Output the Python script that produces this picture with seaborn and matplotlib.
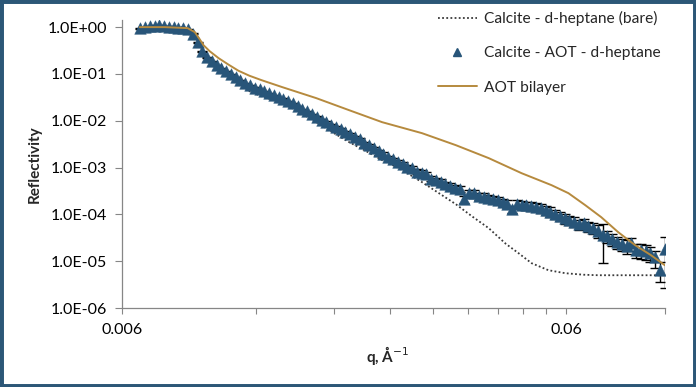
import numpy as np
import pandas as pd
import matplotlib
matplotlib.use("Agg")
import matplotlib.pyplot as plt
import seaborn as sns
from matplotlib.ticker import FixedLocator, FuncFormatter, NullLocator
from matplotlib.patches import Rectangle
from matplotlib.lines import Line2D

# -----------------------
# DATOS
# -----------------------
# medida: Calcite - AOT - d-heptane
q_data = [0.00660, 0.00677, 0.00693, 0.00711, 0.00728, 0.00747, 0.00765, 0.00785, 0.00804, 0.00824,
          0.00845, 0.00866, 0.00888, 0.00910, 0.00933, 0.00956, 0.00980, 0.01004, 0.01029, 0.01055,
          0.01081, 0.01108, 0.01136, 0.01165, 0.01194, 0.01224, 0.01254, 0.01286, 0.01318, 0.01351,
          0.01384, 0.01419, 0.01454, 0.01491, 0.01528, 0.01566, 0.01605, 0.01646, 0.01687, 0.01729,
          0.01772, 0.01817, 0.01862, 0.01909, 0.01956, 0.02005, 0.02055, 0.02107, 0.02160, 0.02214,
          0.02269, 0.02325, 0.02383, 0.02443, 0.02504, 0.02567, 0.02631, 0.02697, 0.02764, 0.02833,
          0.02904, 0.02977, 0.03051, 0.03127, 0.03206, 0.03286, 0.03368, 0.03452, 0.03538, 0.03627,
          0.03717, 0.03810, 0.03906, 0.04003, 0.04103, 0.04206, 0.04311, 0.04419, 0.04529, 0.04642,
          0.04759, 0.04877, 0.04999, 0.05124, 0.05252, 0.05384, 0.05518, 0.05656, 0.05798, 0.05943,
          0.06091, 0.06244, 0.06400, 0.06560, 0.06724, 0.06892, 0.07064, 0.07241, 0.07422, 0.07608,
          0.07798, 0.07993, 0.08193, 0.08397, 0.08607, 0.08823, 0.09043, 0.09269, 0.09501, 0.09739,
          0.09982]
r_data = [0.952, 1.000, 1.050, 1.077, 1.103, 1.050, 1.025, 1.000, 0.980, 0.952,
          0.906, 0.726, 0.478, 0.307, 0.229, 0.188, 0.154, 0.133, 0.115, 0.099,
          0.0855, 0.0737, 0.0636, 0.0576, 0.0510, 0.0473, 0.0429, 0.0389, 0.0352, 0.0319,
          0.0297, 0.0262, 0.0236, 0.0205, 0.0177, 0.0158, 0.0138, 0.0121, 0.0106, 0.0093,
          0.0083, 0.0073, 0.0067, 0.0058, 0.0052, 0.0045, 0.0040, 0.0034, 0.0030, 0.0026,
          0.00224, 0.00195, 0.00167, 0.00150, 0.00132, 0.00120, 0.00105, 0.00098, 0.00082, 0.00078,
          0.00072, 0.00058, 0.00054, 0.00050, 0.00044, 0.00041, 0.00036, 0.00035, 0.00021, 0.00029,
          0.00028, 0.00025, 0.00024, 0.00022, 0.00021, 0.00020, 0.00018, 0.00017, 0.00013, 0.00017,
          0.00016, 0.000155, 0.00015, 0.000145, 0.000135, 0.000122, 0.000115, 0.000104, 0.0000915, 0.0000829,
          0.0000760, 0.0000698, 0.0000620, 0.0000650, 0.0000560, 0.0000507, 0.0000448, 0.0000360, 0.0000342, 0.0000295,
          0.0000255, 0.0000231, 0.0000214, 0.0000240, 0.0000175, 0.0000172, 0.0000164, 0.0000148, 0.0000120, 0.0000065,
          0.0000180]
# error relativo (%)
err_pct = [2, 2, 2, 2, 2, 2, 2, 2, 2, 2,
           2, 2, 2, 2, 2, 2, 2, 2, 2, 2,
           3, 3, 3, 3, 3, 3, 3, 3, 3, 3,
           3, 3, 3, 3, 3, 3, 3, 3, 4, 4,
           4, 4, 4, 4, 5, 5, 5, 5, 6, 6,
           8, 8, 8, 9, 9, 10, 10, 11, 11, 12,
           12, 13, 13, 14, 14, 15, 15, 15, 16, 16,
           16, 17, 17, 17, 18, 18, 18, 18, 19, 19,
           20, 20, 20, 20, 21, 21, 22, 22, 22, 23,
           23, 24, 24, 25, 25, 26, 30, 75, 28, 28,
           30, 30, 32, 32, 34, 34, 35, 36, 40, 45,
           85]

# modelo: Calcite - d-heptane (bare)
q_bare = [0.00658, 0.00749, 0.00830, 0.00861, 0.00884, 0.00907, 0.00931, 0.00980, 0.01048, 0.01103,
          0.01161, 0.01236, 0.01377, 0.01504, 0.01642, 0.01784, 0.01947, 0.02126, 0.02309, 0.02521,
          0.02839, 0.03099, 0.03383, 0.03675, 0.04012, 0.04379, 0.04683, 0.05010, 0.05467, 0.05970,
          0.06553, 0.07078, 0.08262, 0.09950]
r_bare = [1.0, 1.0, 1.0, 0.821, 0.554, 0.339, 0.229, 0.147, 0.0897, 0.0636,
          0.0429, 0.0335, 0.0238, 0.0153, 0.00933, 0.00570, 0.00349, 0.00224, 0.00144, 0.00097,
          0.000488, 0.000284, 0.000165, 0.0000915, 0.0000507, 0.0000237, 0.0000148, 0.00000906, 0.00000641, 0.00000553,
          0.00000514, 0.00000501, 0.00000501, 0.00000501]

# modelo: AOT bilayer
q_bil = [0.00658, 0.00749, 0.00843, 0.00875, 0.00897, 0.00915, 0.00945, 0.00990, 0.01042, 0.01097,
         0.01161, 0.01236, 0.01377, 0.01642, 0.01947, 0.02309, 0.02839, 0.03383, 0.04012, 0.04755,
         0.05554, 0.06062, 0.06617, 0.07187, 0.07846, 0.08566, 0.09304, 0.09990]
r_bil = [1.0, 1.0, 0.952, 0.782, 0.555, 0.413, 0.306, 0.217, 0.158, 0.117,
         0.0916, 0.0737, 0.0522, 0.0304, 0.0168, 0.00933, 0.00543, 0.00301, 0.00159, 0.000759,
         0.000421, 0.000284, 0.000157, 0.0000871, 0.0000417, 0.0000220, 0.0000134, 0.0000082]

x_ticks = [0.006, 0.06]
x_minor = [0.012, 0.018, 0.024, 0.030, 0.036, 0.042, 0.048, 0.054, 0.1]
y_ticks = [1e0, 1e-1, 1e-2, 1e-3, 1e-4, 1e-5, 1e-6]

df = pd.DataFrame({"q": q_data, "R": r_data, "err": err_pct})
df["dR"] = df["R"] * df["err"] / 100
df_bare = pd.DataFrame({"q": q_bare, "R": r_bare})
df_bil = pd.DataFrame({"q": q_bil, "R": r_bil})

# -----------------------
# ESTILO
# -----------------------
sns.set_theme(style="white")
plt.rcParams["font.family"] = ["Lato", "DejaVu Sans"]

c_data = "#285579"
c_bil = "#B68A3E"
c_bare = "#3a3a3a"
c_axis = "#868686"

fig = plt.figure(figsize=(6.96, 3.87), dpi=100)
ax = fig.add_axes([122 / 696, 1 - 308 / 387, (665 - 122) / 696, (308 - 20) / 387])

sns.lineplot(data=df_bare, x="q", y="R", ax=ax, color=c_bare, linestyle=(0, (1, 1.3)),
             linewidth=1.3, sort=False, estimator=None, zorder=2)
ax.errorbar(df["q"], df["R"], yerr=df["dR"], fmt="none", ecolor="black",
            elinewidth=1.0, capsize=3.4, capthick=1.0, zorder=3)
sns.scatterplot(data=df, x="q", y="R", ax=ax, marker="^", s=70, color=c_data,
                edgecolor=c_data, linewidth=0.3, zorder=4)
sns.lineplot(data=df_bil, x="q", y="R", ax=ax, color=c_bil, linewidth=1.4,
             sort=False, estimator=None, zorder=5)

ax.set_xscale("log")
ax.set_yscale("log")
ax.set_xlim(0.006, 0.1)
ax.set_ylim(1e-6, 1.42)

ax.xaxis.set_major_locator(FixedLocator(x_ticks))
ax.xaxis.set_minor_locator(FixedLocator(x_minor))
ax.xaxis.set_major_formatter(FuncFormatter(lambda v, p: f"{v:g}"))
ax.xaxis.set_minor_formatter(FuncFormatter(lambda v, p: ""))
ax.yaxis.set_major_locator(FixedLocator(y_ticks))
ax.yaxis.set_minor_locator(NullLocator())
ax.yaxis.set_major_formatter(FuncFormatter(lambda v, p: f"{v:.1E}"))

for s in ["top", "right"]:
    ax.spines[s].set_visible(False)
for s in ["left", "bottom"]:
    ax.spines[s].set_color(c_axis)
    ax.spines[s].set_linewidth(0.9)

ax.tick_params(axis="y", which="major", direction="out", length=5, width=0.8, color=c_axis,
               pad=6, labelsize=11.5, labelcolor="black", left=True)
ax.tick_params(axis="x", which="both", direction="out", length=4, width=0.8, color=c_axis,
               pad=7, labelsize=11.5, labelcolor="black", bottom=True)

ax.set_xlabel("q, Å$^{-1}$", fontsize=11, fontweight="bold")
ax.set_ylabel("Reflectivity", fontsize=11, fontweight="bold")
ax.xaxis.set_label_coords(0.49, -0.125)
ax.yaxis.set_label_coords(-0.148, 0.5)

# leyenda
handles = [
    Line2D([], [], color=c_bare, linestyle=(0, (1, 1.3)), linewidth=1.3),
    Line2D([], [], color=c_data, marker="^", linestyle="none", markersize=5.5),
    Line2D([], [], color=c_bil, linewidth=1.4),
]
labels = ["Calcite - d-heptane (bare)", "Calcite - AOT - d-heptane", "AOT bilayer"]
fig.legend(handles, labels, loc="upper left", bbox_to_anchor=(438 / 696, 1 - 11 / 387),
           frameon=False, fontsize=11.2, handlelength=2.5, handletextpad=0.45,
           labelspacing=1.3, borderpad=0, borderaxespad=0)

# marco
fig.patches.append(Rectangle((0, 0), 1, 1, transform=fig.transFigure, fill=False,
                             edgecolor="#2C5777", linewidth=5, zorder=10))

plt.savefig("out.png", dpi=100)
